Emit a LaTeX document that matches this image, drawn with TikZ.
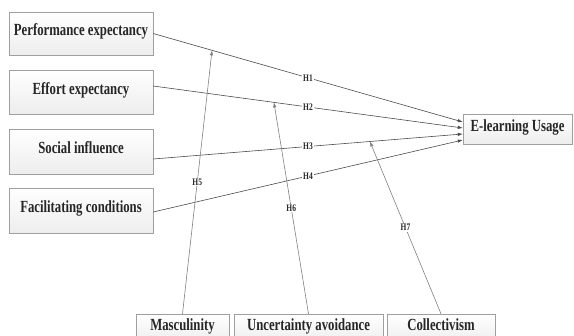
\documentclass[tikz,border=0pt]{standalone}
\usepackage{fontspec}
\setmainfont{Liberation Serif}[FakeStretch=0.75]
\usetikzlibrary{arrows.meta, positioning}
\tikzset{
    box/.style={draw=gray!75, top color=white, bottom color=gray!14, inner sep=2pt,
        text height=0.7em, text depth=0.25em,
        font=\fontsize{17}{19}\selectfont\bfseries, text=black!85},
    link/.style={draw=black!70, line width=0.6pt, -{Latex[length=5pt,width=3.5pt]}},
    modlink/.style={draw=black!50, line width=0.6pt, -{Latex[length=5pt,width=3.5pt]}},
    hyp/.style={fill=white, inner sep=0.8pt, font=\fontsize{10}{11}\selectfont\bfseries, text=black!85}
}
\begin{document}
\begin{tikzpicture}[x=1pt, y=-1pt]
    \clip (0,0) rectangle (574,336);
    \useasboundingbox (0,0) rectangle (574,336);

        % Predictors
        \node[box, minimum width=144, minimum height=43] (perf) at (81,33.5) {Performance expectancy};
        \node[box, minimum width=144, minimum height=44] (eff) at (81,92) {Effort expectancy};
        \node[box, minimum width=144, minimum height=45] (soc) at (81,151.5) {Social influence};
        \node[box, minimum width=144, minimum height=45] (fac) at (81,210.5) {Facilitating conditions};

        % Outcome
        \node[box, minimum width=109, minimum height=30] (elu) at (517.5,129) {E-learning Usage};

        % Moderators
        \node[box, minimum width=93, minimum height=29] (mas) at (182.5,328.5) {Masculinity};
        \node[box, minimum width=149, minimum height=29] (unc) at (308.5,328.5) {Uncertainty avoidance};
        \node[box, minimum width=108, minimum height=29] (col) at (441,328.5) {Collectivism};

        % Direct paths
        \draw[link] (perf.east) -- coordinate[pos=0.19] (m5) node[hyp, midway] {H1} ([yshift=7pt]elu.west);
        \draw[link] ([yshift=6pt]eff.east) -- coordinate[pos=0.39] (m6) node[hyp, midway] {H2} ([yshift=1pt]elu.west);
        \draw[link] ([yshift=-7.5pt]soc.east) -- coordinate[pos=0.70] (m7) node[hyp, midway] {H3} ([yshift=-5pt]elu.west);
        \draw[link] ([yshift=-1.5pt]fac.east) -- node[hyp, midway] {H4} ([yshift=-11pt]elu.west);

        % Moderating paths
        \draw[modlink] (mas.north) -- node[hyp, midway] {H5} (m5);
        \draw[modlink] (unc.north) -- node[hyp, midway] {H6} (m6);
        \draw[modlink] (col.north) -- node[hyp, midway] {H7} (m7);
    \end{tikzpicture}
\end{document}
